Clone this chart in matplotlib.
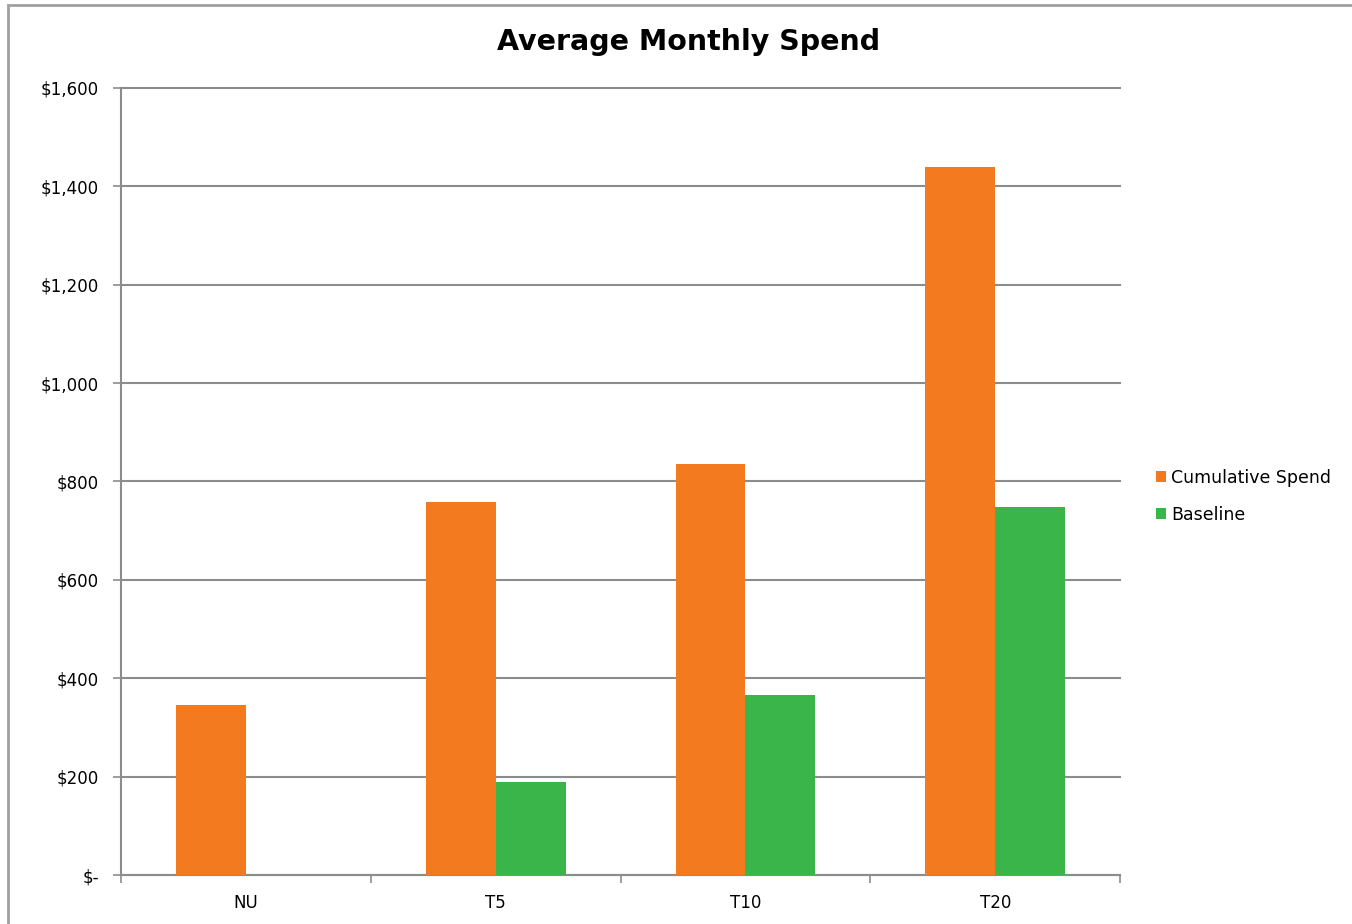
import numpy as np
import matplotlib.pyplot as plt
from matplotlib.patches import Rectangle
from matplotlib.ticker import FuncFormatter

categories = ['NU', 'T5', 'T10', 'T20']
cumulative = [345, 758, 836, 1440]
baseline = [0, 189, 366, 748]

orange = '#F47A20'
green = '#3AB54A'
grid_col = '#8C8C8C'

fig = plt.figure(figsize=(13.52, 9.24), dpi=100)
ax = fig.add_axes([0.0895, 0.053, 0.739, 0.8518])

x = np.arange(len(categories))
w = 0.28
ax.bar(x - w / 2, cumulative, w, color=orange, label='Cumulative Spend', zorder=3)
ax.bar(x + w / 2, baseline, w, color=green, label='Baseline', zorder=3)

ax.set_xlim(-0.5, len(categories) - 0.5)
ax.set_ylim(0, 1600)
ax.set_yticks(np.arange(0, 1601, 200))


def money(v, pos):
    if v == 0:
        return '$-'
    return '${:,.0f}'.format(v)


ax.yaxis.set_major_formatter(FuncFormatter(money))
ax.yaxis.grid(True, color=grid_col, linewidth=1.5, zorder=0)
for gl in ax.get_ygridlines():
    gl.set_clip_on(False)
ax.tick_params(axis='y', length=6, width=1.2, color=grid_col, labelsize=12, pad=10)

# tick marks between categories, labels in the middle
ax.set_xticks(np.arange(-0.5, len(categories), 1.0))
ax.set_xticklabels([])
ax.tick_params(axis='x', which='major', length=6, width=1.2, color=grid_col)
ax.set_xticks(x, minor=True)
ax.set_xticklabels(categories, minor=True)
ax.tick_params(axis='x', which='minor', length=0, labelsize=12, pad=14)

for s in ['top', 'right']:
    ax.spines[s].set_visible(False)
for s in ['left', 'bottom']:
    ax.spines[s].set_color(grid_col)
    ax.spines[s].set_linewidth(1.5)

fig.text(0.509, 0.955, 'Average Monthly Spend', ha='center', va='center',
         fontsize=20.5, fontweight='bold')

ax.legend(loc='center left', bbox_to_anchor=(1.02, 0.481), frameon=False,
          fontsize=12.5, handlelength=0.6, handleheight=0.6, handletextpad=0.3,
          labelspacing=1.1)

fig.patches.append(Rectangle((0.006, -0.01), 1.1, 1.005, transform=fig.transFigure,
                             fill=False, edgecolor='#A0A0A0', linewidth=2))

fig.savefig('out.png', dpi=100)
